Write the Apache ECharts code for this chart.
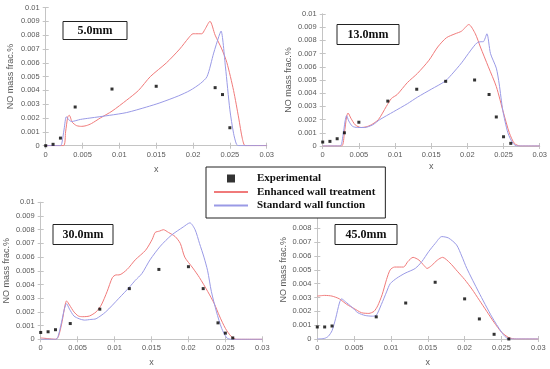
<!DOCTYPE html>
<html>
<head>
<meta charset="utf-8">
<script src="https://cdn.jsdelivr.net/npm/echarts@6/dist/echarts.min.js"></script>
<style>html,body{margin:0;padding:0;background:#fff}#c{width:550px;height:369px}</style>
</head>
<body>
<div id="c"></div>
<script>
// ---- tick / label data ----
var panelLabels = ['5.0mm', '13.0mm', '30.0mm', '45.0mm'];
var legendNames = ['Experimental', 'Enhanced wall treatment', 'Standard wall function'];
var xTitle = 'x';
var yTitle = 'NO mass frac.%';

// ---- Panel 1 : 5.0mm ----
var p1Exp = [[0,0],[0.001,0.0001],[0.002,0.00055],[0.004,0.0028],[0.009,0.0041],[0.015,0.0043],[0.023,0.0042],[0.024,0.0037],[0.025,0.0013]];
var p1Enh = [[0,0],[0.0024,0],[0.0027,0.001],[0.003,0.0021],[0.0032,0.0022],[0.0036,0.0017],[0.0042,0.00145],[0.0049,0.0014],[0.0055,0.00145],[0.0062,0.0016],[0.0074,0.002],[0.009,0.0025],[0.011,0.0033],[0.0126,0.004],[0.0142,0.005],[0.0164,0.006],[0.0182,0.007],[0.0194,0.0078],[0.02,0.0081],[0.0207,0.0081],[0.0212,0.0081],[0.0216,0.0084],[0.0223,0.009],[0.023,0.008],[0.0239,0.007],[0.0246,0.006],[0.0255,0.004],[0.0262,0.002],[0.0267,0.0005],[0.0271,0],[0.03,0]];
var p1Std = [[0,0],[0.002,0],[0.0022,0.0002],[0.0025,0.0012],[0.0028,0.0021],[0.0031,0.0019],[0.0035,0.00175],[0.0047,0.0019],[0.006,0.002],[0.0087,0.0022],[0.011,0.0024],[0.0137,0.0028],[0.0155,0.0031],[0.018,0.0036],[0.0196,0.004],[0.021,0.0045],[0.0219,0.005],[0.0228,0.0067],[0.0235,0.0079],[0.0238,0.0083],[0.0244,0.0057],[0.025,0.0026],[0.0255,0.0009],[0.0259,0.0001],[0.0262,0],[0.03,0]];

// ---- Panel 2 : 13.0mm ----
var p2Exp = [[0,0.0003],[0.001,0.00035],[0.002,0.00055],[0.003,0.001],[0.005,0.0018],[0.009,0.0034],[0.013,0.0043],[0.017,0.0049],[0.021,0.005],[0.023,0.0039],[0.024,0.0022],[0.025,0.0007],[0.026,0.0002]];
var p2Enh = [[0,0],[0.0026,0],[0.003,0.001],[0.0033,0.0022],[0.0035,0.0025],[0.0039,0.0021],[0.0045,0.0016],[0.0053,0.0014],[0.006,0.00145],[0.0067,0.0016],[0.0077,0.002],[0.0088,0.003],[0.0095,0.0036],[0.0103,0.0039],[0.0117,0.0048],[0.0131,0.0055],[0.0147,0.0065],[0.0159,0.0075],[0.0171,0.0082],[0.0183,0.0085],[0.0192,0.0087],[0.0202,0.0092],[0.0211,0.0085],[0.0218,0.0075],[0.0229,0.006],[0.024,0.0045],[0.025,0.0025],[0.0258,0.001],[0.0265,0.0002],[0.0273,0],[0.03,0]];
var p2Std = [[0,0],[0.0024,0],[0.0028,0.0008],[0.0031,0.0019],[0.0033,0.0023],[0.0036,0.0019],[0.0041,0.0015],[0.0048,0.0014],[0.0058,0.0014],[0.0069,0.0016],[0.0079,0.002],[0.0098,0.0026],[0.0117,0.0032],[0.0131,0.0037],[0.015,0.0043],[0.0169,0.0049],[0.0178,0.0054],[0.0192,0.0063],[0.0204,0.0072],[0.0213,0.0078],[0.0219,0.0079],[0.0222,0.0079],[0.0227,0.0085],[0.0232,0.007],[0.024,0.0059],[0.0244,0.0047],[0.0249,0.0027],[0.0256,0.001],[0.0263,0.0002],[0.0269,0],[0.03,0]];

// ---- Panel 3 : 30.0mm ----
var p3Exp = [[0,0.0005],[0.001,0.00055],[0.002,0.0007],[0.004,0.00115],[0.008,0.0022],[0.012,0.0037],[0.016,0.0051],[0.02,0.0053],[0.022,0.0037],[0.024,0.0012],[0.025,0.00045],[0.026,0.0001]];
var p3Enh = [[0,0.0001],[0.001,0.00005],[0.002,0],[0.0024,0.0002],[0.0029,0.0013],[0.0033,0.0025],[0.0035,0.0028],[0.0039,0.0025],[0.0045,0.002],[0.0051,0.0017],[0.0057,0.00165],[0.0066,0.0017],[0.0075,0.002],[0.0082,0.0025],[0.009,0.0035],[0.0097,0.0045],[0.0102,0.0047],[0.0106,0.0047],[0.0117,0.0051],[0.0128,0.0058],[0.0142,0.0065],[0.0151,0.0073],[0.0155,0.0078],[0.0161,0.0079],[0.0166,0.008],[0.0173,0.0078],[0.0182,0.0075],[0.0189,0.007],[0.0195,0.006],[0.0206,0.0052],[0.0215,0.0045],[0.0226,0.0035],[0.0235,0.0026],[0.0242,0.0017],[0.025,0.0008],[0.0258,0.0002],[0.0265,0],[0.03,0]];
var p3Std = [[0,0],[0.0021,0],[0.0024,0.0003],[0.0028,0.0012],[0.0032,0.0022],[0.0035,0.0026],[0.0039,0.0022],[0.0045,0.0017],[0.0052,0.0015],[0.0059,0.0014],[0.0068,0.00145],[0.0075,0.0015],[0.0088,0.002],[0.0106,0.003],[0.012,0.0038],[0.0128,0.0043],[0.0137,0.0048],[0.0148,0.0058],[0.0162,0.0068],[0.0177,0.0076],[0.0193,0.0082],[0.0202,0.0085],[0.0209,0.008],[0.0215,0.007],[0.0221,0.006],[0.0226,0.005],[0.0231,0.0035],[0.0238,0.002],[0.0245,0.0008],[0.0252,0.0001],[0.0258,0],[0.03,0]];

// ---- Panel 4 : 45.0mm ----
var p4Exp = [[0,0.00087],[0.001,0.00087],[0.002,0.00094],[0.008,0.0016],[0.012,0.0026],[0.016,0.0041],[0.02,0.0029],[0.022,0.00145],[0.024,0.00034],[0.026,0]];
var p4Enh = [[0,0.0031],[0.001,0.00315],[0.002,0.0031],[0.003,0.0029],[0.004,0.0025],[0.005,0.0022],[0.006,0.0019],[0.007,0.00185],[0.0077,0.002],[0.0082,0.0024],[0.0088,0.0032],[0.0094,0.0043],[0.0099,0.005],[0.0105,0.0052],[0.0117,0.0052],[0.0123,0.0056],[0.013,0.0059],[0.0138,0.0057],[0.0145,0.0053],[0.0149,0.0051],[0.0155,0.0053],[0.0163,0.0057],[0.017,0.0059],[0.018,0.0055],[0.019,0.0049],[0.02,0.0043],[0.021,0.0036],[0.022,0.0028],[0.023,0.002],[0.024,0.0012],[0.025,0.0005],[0.026,0.0001],[0.027,0],[0.03,0]];
var p4Std = [[0,0],[0.001,0.00005],[0.0015,0.0002],[0.002,0.0006],[0.0025,0.0015],[0.003,0.0026],[0.0033,0.0029],[0.0038,0.0027],[0.0047,0.0023],[0.0055,0.0019],[0.0065,0.0017],[0.0075,0.00165],[0.008,0.0017],[0.0087,0.0025],[0.0094,0.0034],[0.0099,0.004],[0.0108,0.0044],[0.0119,0.00475],[0.0133,0.0051],[0.0142,0.0056],[0.0151,0.0063],[0.016,0.0069],[0.0169,0.0074],[0.0178,0.0073],[0.0189,0.0068],[0.0196,0.006],[0.0203,0.0051],[0.0219,0.0034],[0.0237,0.0016],[0.025,0.0005],[0.0255,0.00017],[0.026,0],[0.03,0]];

var panels = [
  {exp: p1Exp, enh: p1Enh, std: p1Std},
  {exp: p2Exp, enh: p2Enh, std: p2Std},
  {exp: p3Exp, enh: p3Enh, std: p3Std},
  {exp: p4Exp, enh: p4Enh, std: p4Std}
];

// ---- layout (pixels) ----
var grids = [
  {left: 45.7, top: 7.5, width: 221, height: 138.2, yGap: 31, xGap: 19},
  {left: 322.7, top: 14, width: 218, height: 132, yGap: 30, xGap: 16},
  {left: 40.7, top: 202.3, width: 221.6, height: 137, yGap: 29.7, xGap: 19},
  {left: 317.3, top: 200.6, width: 221, height: 138.4, yGap: 29, xGap: 19}
];
var boxes = [
  {left: 63, top: 21, pad: [3, 14.5]},
  {left: 337, top: 24, pad: [4, 10.5]},
  {left: 53, top: 224, pad: [4, 9.5]},
  {left: 335, top: 224, pad: [4, 10.5]}
];

var RED = '#f07a7a', BLUE = '#9a9ae6', AX = '#c4c4c4', LBL = '#595959';
var labelFont = 'Liberation Sans';

var option = {
  animation: false,
  backgroundColor: '#fff',
  grid: [], xAxis: [], yAxis: [], series: [], title: []
};

grids.forEach(function (g, i) {
  option.grid.push({left: g.left, top: g.top, width: g.width, height: g.height, show: false});
  option.xAxis.push({
    type: 'value', gridIndex: i, min: 0, max: 0.03, interval: 0.005, position: 'bottom',
    name: xTitle, nameLocation: 'middle', nameGap: g.xGap,
    nameTextStyle: {color: LBL, fontFamily: labelFont, fontSize: 9},
    axisLine: {show: true, lineStyle: {color: AX, width: 1}},
    axisTick: {show: true, inside: true, length: 3, lineStyle: {color: AX}},
    axisLabel: {color: LBL, fontFamily: labelFont, fontSize: 7.5, margin: 5},
    splitLine: {show: false}
  });
  option.xAxis.push({
    type: 'value', gridIndex: i, min: 0, max: 0.03, interval: 0.005, position: 'top',
    axisLine: {show: true, lineStyle: {color: AX, width: 1}},
    axisTick: {show: true, inside: true, length: 3, lineStyle: {color: AX}},
    axisLabel: {show: false}, splitLine: {show: false}
  });
  option.yAxis.push({
    type: 'value', gridIndex: i, min: 0, max: 0.01, interval: 0.001, position: 'left',
    name: yTitle, nameLocation: 'middle', nameGap: g.yGap, nameRotate: 90,
    nameTextStyle: {color: LBL, fontFamily: labelFont, fontSize: 9},
    axisLine: {show: true, lineStyle: {color: AX, width: 1}},
    axisTick: {show: true, inside: true, length: 3, lineStyle: {color: AX}},
    axisLabel: {color: LBL, fontFamily: labelFont, fontSize: 7.5, margin: 6},
    splitLine: {show: false}
  });
  option.yAxis.push({
    type: 'value', gridIndex: i, min: 0, max: 0.01, interval: 0.001, position: 'right',
    axisLine: {show: true, lineStyle: {color: AX, width: 1}},
    axisTick: {show: true, inside: true, length: 3, lineStyle: {color: AX}},
    axisLabel: {show: false}, splitLine: {show: false}
  });

  var p = panels[i];
  option.series.push({
    name: legendNames[1], type: 'line', xAxisIndex: 2 * i, yAxisIndex: 2 * i,
    data: p.enh, showSymbol: false, symbol: 'none', smooth: 0.25,
    lineStyle: {color: RED, width: 1}, itemStyle: {color: RED}, z: 3
  });
  option.series.push({
    name: legendNames[2], type: 'line', xAxisIndex: 2 * i, yAxisIndex: 2 * i,
    data: p.std, showSymbol: false, symbol: 'none', smooth: 0.25,
    lineStyle: {color: BLUE, width: 1}, itemStyle: {color: BLUE}, z: 3
  });
  option.series.push({
    name: legendNames[0], type: 'scatter', xAxisIndex: 2 * i, yAxisIndex: 2 * i,
    data: p.exp, symbol: 'rect', symbolSize: 3,
    itemStyle: {color: '#000'}, z: 4
  });

  var b = boxes[i];
  option.title.push({
    text: panelLabels[i], left: b.left, top: b.top, padding: b.pad,
    borderColor: '#222', borderWidth: 1, backgroundColor: '#fff',
    textStyle: {fontFamily: 'Liberation Serif', fontWeight: 'bold', fontSize: 12, lineHeight: 13, color: '#111'}
  });
});

option.legend = {
  left: 206, top: 167, orient: 'vertical',
  padding: [5, 10, 6, 7], itemGap: 0.5, itemWidth: 34, itemHeight: 10,
  backgroundColor: '#fff', borderColor: '#222', borderWidth: 1,
  selectedMode: false, z: 10,
  textStyle: {fontFamily: 'Liberation Serif', fontWeight: 'bold', fontSize: 11, lineHeight: 13, color: '#111', padding: [0, 0, 0, 4]},
  data: [
    {name: legendNames[0], icon: 'path://M0,0M34,10M13,1h8v8h-8z'},
    {name: legendNames[1], itemStyle: {opacity: 0}},
    {name: legendNames[2], itemStyle: {opacity: 0}}
  ]
};

var chart = echarts.init(document.getElementById('c'), null, {renderer: 'canvas'});
chart.setOption(option);
</script>
</body>
</html>
